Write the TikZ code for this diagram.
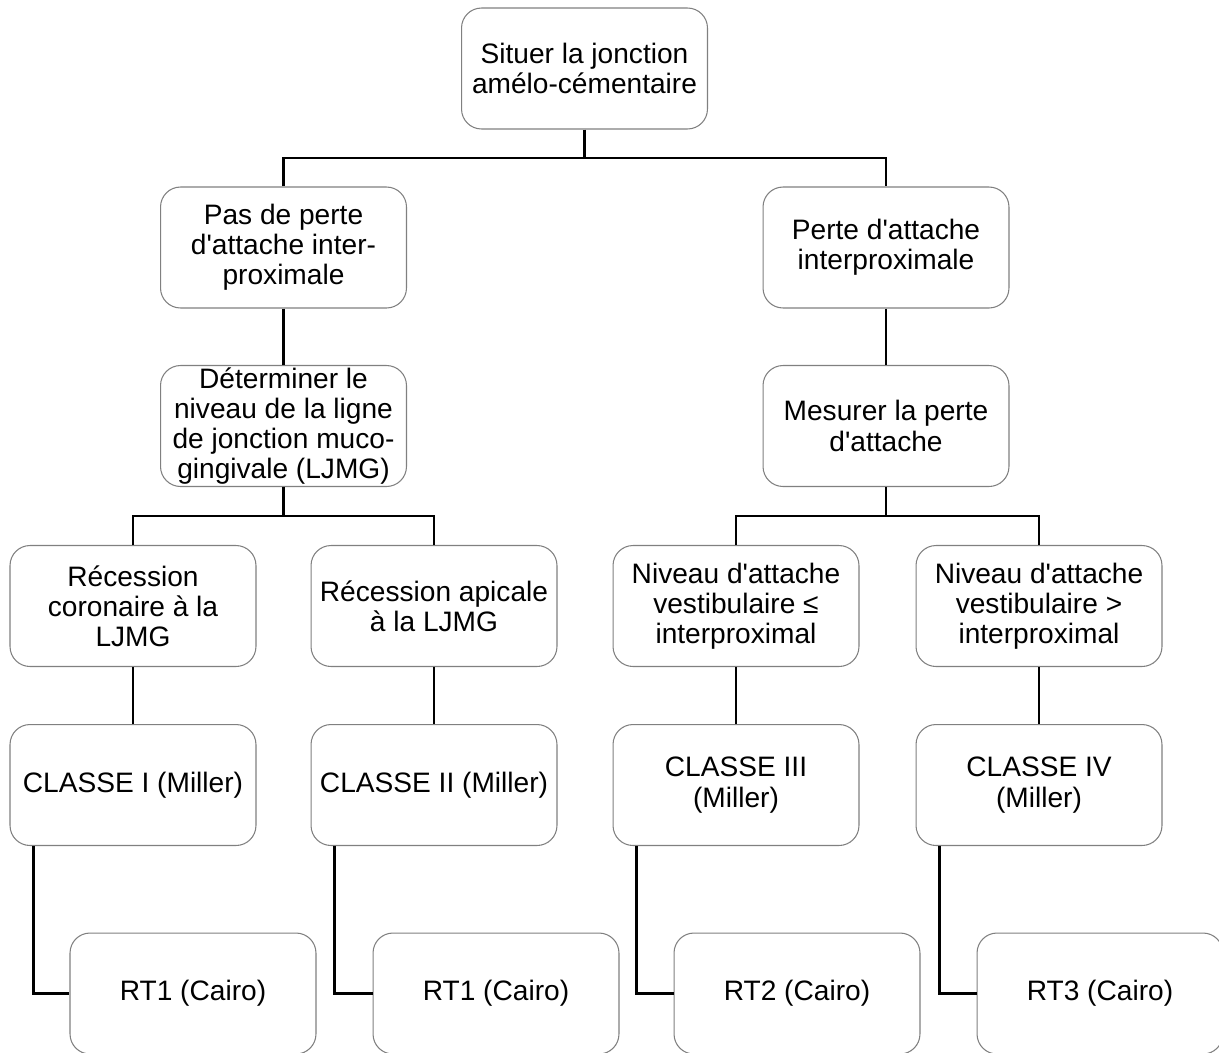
\documentclass[tikz,border=0pt]{standalone}
\usepackage{fontspec}
\setmainfont{Liberation Sans}
\usetikzlibrary{calc}
\newcommand{\ap}{\textquotesingle}
\begin{document}
\begin{tikzpicture}[x=0.02cm,y=-0.02cm,
  box/.style={draw=black!50, line width=0.6pt, rounded corners=0.4cm, fill=white,
    minimum width=4.92cm, minimum height=2.42cm, inner sep=0pt, align=center,
    font=\fontsize{16}{17.2}\selectfont},
  link/.style={draw=black, line width=1.4pt}]
\useasboundingbox (0,0) rectangle (1219,1052);

% level 1
\node[box] (top) at (584.5,68.5) {Situer la jonction\\amélo-cémentaire};

% level 2
\node[box] (pas)   at (283.5,247.5) {Pas de perte\\d\ap attache inter-\\proximale};
\node[box] (perte) at (886,247.5)   {Perte d\ap attache\\interproximale};

% level 3
\node[box] (det) at (283.5,426) {Déterminer le\\niveau de la ligne\\de jonction muco-\\gingivale (LJMG)};
\node[box] (mes) at (886,426)   {Mesurer la perte\\d\ap attache};

% level 4
\node[box] (rc) at (133,606)  {Récession\\coronaire à la\\LJMG};
\node[box] (ra) at (434,606)  {Récession apicale\\à la LJMG};
\node[box] (ni) at (736,606)  {Niveau d\ap attache\\vestibulaire ≤\\interproximal};
\node[box] (ns) at (1039,606) {Niveau d\ap attache\\vestibulaire >\\interproximal};

% level 5
\node[box] (c1) at (133,785)  {CLASSE I (Miller)};
\node[box] (c2) at (434,785)  {CLASSE II (Miller)};
\node[box] (c3) at (736,785)  {CLASSE III\\(Miller)};
\node[box] (c4) at (1039,785) {CLASSE IV\\(Miller)};

% level 6
\node[box] (rt1) at (193,993.5)  {RT1 (Cairo)};
\node[box] (rt2) at (496,993.5)  {RT1 (Cairo)};
\node[box] (rt3) at (797,993.5)  {RT2 (Cairo)};
\node[box] (rt4) at (1100,993.5) {RT3 (Cairo)};

% junction points of the branching connectors
\coordinate (j1) at (584.5,158);
\coordinate (j2) at (283.5,516);
\coordinate (j3) at (886,516);

\draw[link] (top.south) -- (j1);
\draw[link] (pas.north) |- (j1) -| (perte.north);
\draw[link] (pas.south) -- (det.north);
\draw[link] (perte.south) -- (mes.north);

\draw[link] (det.south) -- (j2);
\draw[link] (rc.north) |- (j2) -| (ra.north);
\draw[link] (mes.south) -- (j3);
\draw[link] (ni.north) |- (j3) -| (ns.north);

\draw[link] (rc.south) -- (c1.north);
\draw[link] (ra.south) -- (c2.north);
\draw[link] (ni.south) -- (c3.north);
\draw[link] (ns.south) -- (c4.north);

\draw[link] ($(c1.south west)+(24,0)$) |- (rt1.west);
\draw[link] ($(c2.south west)+(24,0)$) |- (rt2.west);
\draw[link] ($(c3.south west)+(24,0)$) |- (rt3.west);
\draw[link] ($(c4.south west)+(24,0)$) |- (rt4.west);
\end{tikzpicture}
\end{document}
